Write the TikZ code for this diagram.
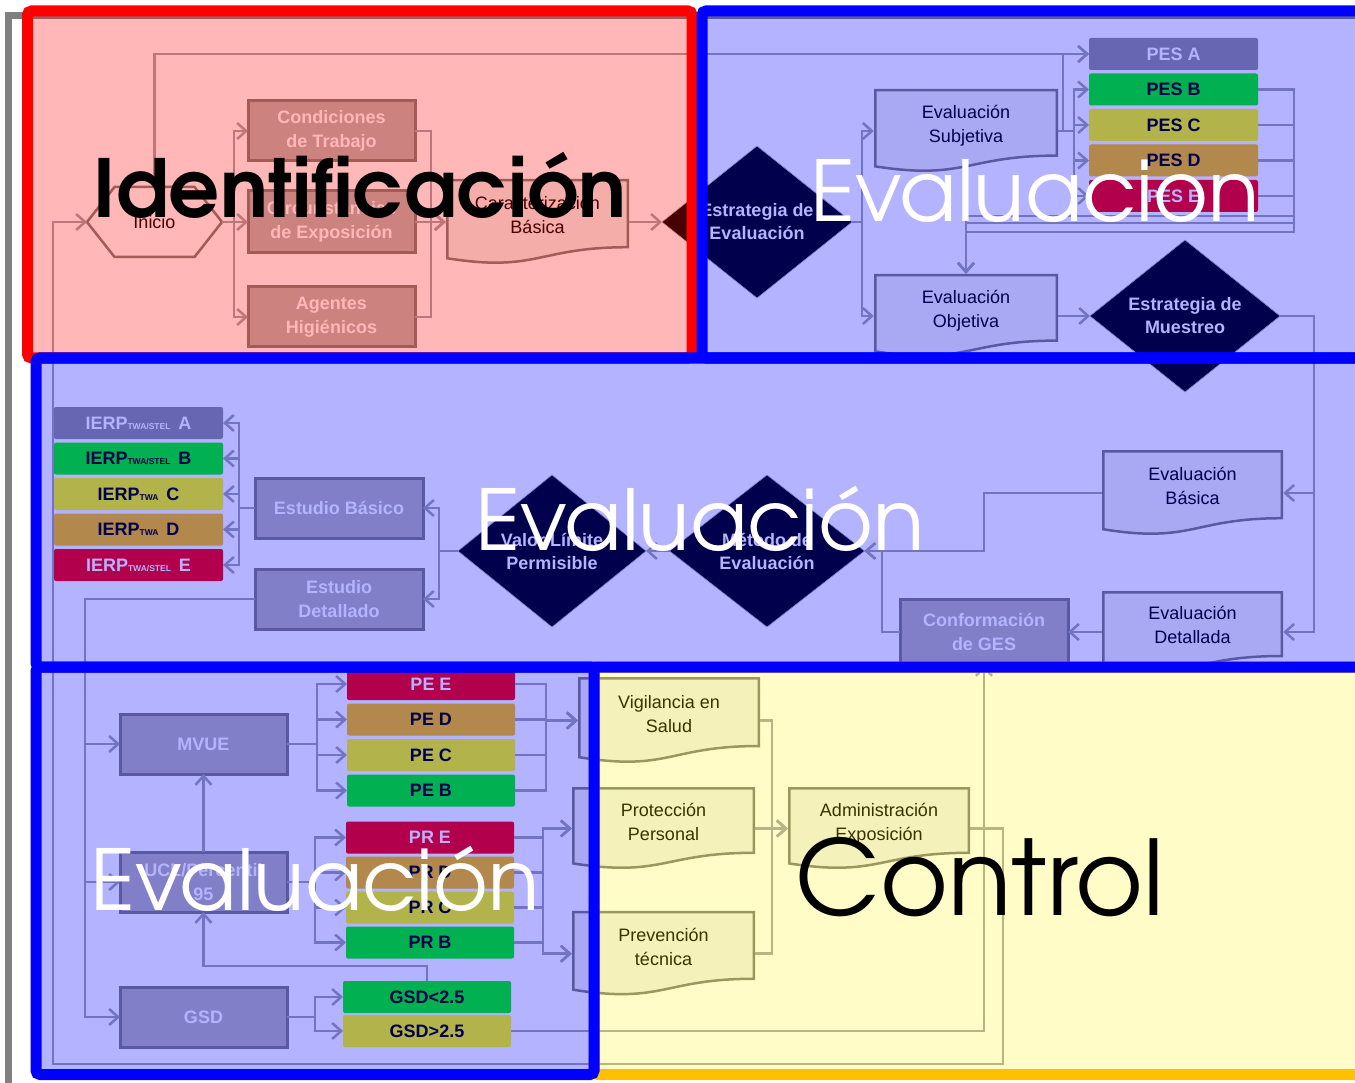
\documentclass[tikz,border=0pt]{standalone}
\usepackage{fontspec}
\setmainfont{Liberation Sans}
\newfontfamily\gothfont{texgyreadventor}[Extension=.otf, UprightFont=*-regular, BoldFont=*-bold]
\usetikzlibrary{positioning,shapes.geometric,arrows.meta,calc}

\definecolor{lnc}{RGB}{165,165,170}
\definecolor{bdc}{RGB}{128,128,122}
\definecolor{boxc}{RGB}{184,182,178}
\definecolor{docc}{RGB}{242,242,238}
\definecolor{lvA}{RGB}{146,146,146}
\definecolor{lvB}{RGB}{0,251,8}
\definecolor{lvC}{RGB}{255,255,0}
\definecolor{lvD}{RGB}{255,194,0}
\definecolor{lvE}{RGB}{255,0,0}
\definecolor{frameg}{RGB}{128,128,128}
\definecolor{ctlc}{RGB}{255,192,0}

\newcommand{\ierplabel}[2]{IERP{\fontsize{8.5}{9}\selectfont #1}\, #2}

\begin{document}
\begin{tikzpicture}[x=1pt, y=-1pt,
    every node/.style={align=center, inner sep=0, outer sep=0, font=\fontsize{18}{24}\selectfont},
    conn/.style={draw=lnc, line width=2.5},
    arr/.style={conn, -{Straight Barb[length=9pt,width=16pt]}},
    box/.style={draw=bdc, line width=3, fill=boxc, text=white, font=\fontsize{18}{24}\selectfont\bfseries, minimum width=167, minimum height=60},
    lvl/.style={rounded corners=2, minimum width=169, minimum height=32, font=\fontsize{18}{24}\selectfont\bfseries},
    dia/.style={shape=diamond, aspect=1.25, fill=black, draw=white!70!black, line width=0.6, text=white, font=\fontsize{18}{23}\selectfont\bfseries, minimum width=190, minimum height=152},
    docln/.style={draw=bdc, fill=docc, line width=2.5},
    doc/.style 2 args={minimum width=#1+2.5, minimum height=#2+2.5,
      execute at end node={\rule[-14pt]{0pt}{14pt}},
      path picture={
        \coordinate (dnw) at ([shift={(1.5,1.5)}]path picture bounding box.north west);
        \coordinate (dse) at ([shift={(-1.5,-1.5)}]path picture bounding box.south east);
        \coordinate (dn) at ($(dnw)!.5!(dnw -| dse)$);
        \coordinate (ds) at ($(dnw |- dse)!.5!(dse)$);
        \draw[docln] (dnw) -- (dnw -| dse) -- ($(dnw -| dse)!.802!(dse)$)
          .. controls ($(dn)!.802!(ds)$) and ($(dn)!1.107!(ds)$) .. ($(dnw)!.934!(dnw |- dse)$) -- cycle;
      }},
    region/.style={line width=11, rounded corners=4},
    big/.style={anchor=base, font=\gothfont\fontsize{84}{84}\selectfont}]

  \useasboundingbox (0,0) rectangle (1355,1083);
  \fill[white] (0,0) rectangle (1355,1083);
  \draw[frameg, line width=7] (8.5,15.5) rectangle (1400,1100);

  % identificacion
  \node[minimum width=80, minimum height=70] (inicio) at (154.5,222) {Inicio};
  \draw[draw=bdc, line width=2.5] (inicio.north west) -- (inicio.north east) -- ([xshift=27.5pt]inicio.east)
    -- (inicio.south east) -- (inicio.south west) -- ([xshift=-27.5pt]inicio.west) -- cycle;
  \coordinate (inicioL) at ([xshift=-27.5pt]inicio.west);
  \coordinate (inicioR) at ([xshift=27.5pt]inicio.east);
  \node[box] (condic) at (331.5,131) {Condiciones\\de Trabajo};
  \node[box, minimum height=62] (circ) at (331.5,222) {Circunstancias\\de Exposición};
  \node[box] (agentes) at (331.5,317) {Agentes\\Higiénicos};
  \node[doc={181}{84}] (caract) at (537.5,222) {Caracterización\\Básica};
  \node[dia] (estrEval) at (757,222) {Estrategia de\\Evaluación};

  % evaluacion subjetiva / objetiva
  \node[doc={182}{82}] (subj) at (966,131) {Evaluación\\Subjetiva};
  \node[doc={182}{82}] (obj) at (966,316) {Evaluación\\Objetiva};
  \node[lvl, fill=lvA, text=white] (pesA) at (1173.5,54) {PES A};
  \node[lvl, fill=lvB, below=3.5pt of pesA] (pesB) {PES B};
  \node[lvl, fill=lvC, below=3.5pt of pesB] (pesC) {PES C};
  \node[lvl, fill=lvD, below=3.5pt of pesC] (pesD) {PES D};
  \node[lvl, fill=lvE, text=white, below=3.5pt of pesD] (pesE) {PES E};
  \node[dia] (muestreo) at (1185,316) {Estrategia de\\Muestreo};

  % evaluacion basica / detallada
  \node[doc={179}{84}] (basica) at (1192.5,493) {Evaluación\\Básica};
  \node[doc={179}{80}] (detallada) at (1192.5,632) {Evaluación\\Detallada};
  \node[box, minimum width=168, minimum height=66] (ges) at (984,632) {Conformación\\de GES};
  \node[dia, minimum width=195] (metodo) at (767,551) {Método de\\Evaluación};
  \node[dia, minimum width=188] (vlp) at (552,551) {Valor Límite\\Permisible};
  \node[box, minimum width=168] (estbas) at (339,508) {Estudio Básico};
  \node[box, minimum width=168] (estdet) at (339,599) {Estudio\\Detallado};
  \node[lvl, fill=lvA, text=white] (ierpA) at (138.5,423) {\ierplabel{TWA/STEL}{A}};
  \node[lvl, fill=lvB, below=3.5pt of ierpA] (ierpB) {\ierplabel{TWA/STEL}{B}};
  \node[lvl, fill=lvC, below=3.5pt of ierpB] (ierpC) {\ierplabel{TWA}{C}};
  \node[lvl, fill=lvD, below=3.5pt of ierpC] (ierpD) {\ierplabel{TWA}{D}};
  \node[lvl, fill=lvE, text=white, below=3.5pt of ierpD] (ierpE) {\ierplabel{TWA/STEL}{E}};

  % estudio detallado
  \node[box] (mvue) at (203.5,744) {MVUE};
  \node[box] (ucl) at (203.5,882) {UCL/Percentil\\95};
  \node[box] (gsd) at (203.5,1017) {GSD};
  \node[lvl, minimum width=168, fill=lvE, text=white] (peE) at (431,684) {PE E};
  \node[lvl, minimum width=168, fill=lvD, below=3.5pt of peE] (peD) {PE D};
  \node[lvl, minimum width=168, fill=lvC, below=3.5pt of peD] (peC) {PE C};
  \node[lvl, minimum width=168, fill=lvB, below=3.5pt of peC] (peB) {PE B};
  \node[lvl, minimum width=168, fill=lvE, text=white] (prE) at (430,837.5) {PR E};
  \node[lvl, minimum width=168, fill=lvD, below=3pt of prE] (prD) {PR D};
  \node[lvl, minimum width=168, fill=lvC, below=3pt of prD] (prC) {PR C};
  \node[lvl, minimum width=168, fill=lvB, below=3pt of prC] (prB) {PR B};
  \node[lvl, minimum width=168, fill=lvB] (gsdlo) at (427,997) {GSD<2.5};
  \node[lvl, minimum width=168, fill=lvC, below=2pt of gsdlo] (gsdhi) {GSD>2.5};

  % control
  \node[doc={180}{85}] (vigil) at (669,720.5) {Vigilancia en\\Salud};
  \node[doc={181}{81}] (protec) at (663.5,828.5) {Protección\\Personal};
  \node[doc={181}{83.5}] (prev) at (663.5,953.7) {Prevención\\técnica};
  \node[doc={180}{81}] (admin) at (879,828.5) {Administración\\Exposición};

  % connectors
  \coordinate (splitI) at (234,222);
  \coordinate (joinI) at (431,222);
  \draw[arr] (inicioR) -- (splitI) |- (condic.west);
  \draw[arr] (splitI) -- (circ.west);
  \draw[arr] (splitI) |- (agentes.west);
  \draw[arr] (condic.east) -| (joinI) -- (caract.west);
  \draw[arr] (circ.east) -- (caract.west);
  \draw[arr] (agentes.east) -| (joinI) -- (caract.west);
  \draw[arr] (caract.east) -- (estrEval.west);
  \draw[arr] (inicio.north) |- (pesA.west);

  \coordinate (splitE) at (862,222);
  \draw[arr] (estrEval.east) -- (splitE) |- (subj.west);
  \draw[arr] (splitE) |- (obj.west);
  \coordinate (splitS) at (1063,131);
  \coordinate (splitS2) at (1074,131);
  \draw[arr] (subj.east) -- (splitS) |- (pesA.west);
  \draw[arr] (splitS) -- (splitS2) |- (pesB.west);
  \draw[arr] (splitS2) |- (pesC.west);
  \draw[arr] (splitS2) |- (pesD.west);
  \draw[arr] (splitS2) |- (pesE.west);
  \coordinate (retB) at (1294,232);
  \coordinate (retC) at (1294,223);
  \coordinate (retD) at (1294,216);
  \draw[arr] (pesB.east) -| (retB) -| (obj.north);
  \draw[arr] (pesC.east) -| (retC) -| (obj.north);
  \draw[arr] (pesD.east) -| (retD) -| (obj.north);
  \draw[conn] (pesE.east) -- (pesE.east -| retD);
  \draw[arr] (obj.east) -- (muestreo.west);
  \coordinate (splitM) at (1314,316);
  \draw[arr] (muestreo.east) -- (splitM) |- (basica.east);
  \draw[arr] (splitM) |- (detallada.east);

  \coordinate (stepB) at (984,551);
  \coordinate (stepG) at (882,551);
  \draw[arr] (basica.west) -| (stepB) -- (metodo.east);
  \draw[arr] (detallada.west) -- (ges.east);
  \draw[arr] (ges.west) -| (stepG) -- (metodo.east);
  \draw[arr] (metodo.west) -- (vlp.east);
  \coordinate (splitV) at (439,551);
  \draw[arr] (vlp.west) -- (splitV) |- (estbas.east);
  \draw[arr] (splitV) |- (estdet.east);
  \coordinate (splitB) at (239,508);
  \draw[arr] (estbas.west) -- (splitB) |- (ierpA.east);
  \draw[arr] (splitB) |- (ierpB.east);
  \draw[arr] (splitB) |- (ierpC.east);
  \draw[arr] (splitB) |- (ierpD.east);
  \draw[arr] (splitB) |- (ierpE.east);
  \coordinate (splitD) at (85,599);
  \draw[arr] (estdet.west) -- (splitD) |- (mvue.west);
  \draw[arr] (splitD) |- (ucl.west);
  \draw[arr] (splitD) |- (gsd.west);

  \draw[arr] (ucl.north) -- (mvue.south);
  \coordinate (backG) at (427,966);
  \draw[arr] (gsdlo.north) -- (backG) -| (ucl.south);
  \coordinate (splitMV) at (317,744);
  \draw[arr] (mvue.east) -- (splitMV) |- (peE.west);
  \draw[arr] (splitMV) |- (peD.west);
  \draw[arr] (splitMV) |- (peC.west);
  \draw[arr] (splitMV) |- (peB.west);
  \coordinate (splitU) at (315,882);
  \draw[arr] (ucl.east) -- (splitU) |- (prE.west);
  \draw[arr] (splitU) |- (prD.west);
  \draw[arr] (splitU) |- (prC.west);
  \draw[arr] (splitU) |- (prB.west);
  \coordinate (splitG) at (315,1017);
  \draw[arr] (gsd.east) -- (splitG) |- (gsdlo.west);
  \draw[arr] (splitG) |- (gsdhi.west);
  \coordinate (joinPE) at (546,720.5);
  \draw[arr] (peE.east) -| (joinPE) -- (vigil.west);
  \draw[arr] (peD.east) -| (joinPE) -- (vigil.west);
  \draw[arr] (peC.east) -| (joinPE) -- (vigil.west);
  \draw[arr] (peB.east) -| (joinPE) -- (vigil.west);
  \coordinate (joinPR1) at (543,828.5);
  \coordinate (joinPR2) at (543,953.7);
  \draw[arr] (prE.east) -| (joinPR1) -- (protec.west);
  \draw[arr] (prC.east) -| (joinPR1) -- (protec.west);
  \draw[arr] (prD.east) -| (joinPR2) -- (prev.west);
  \draw[arr] (prB.east) -| (joinPR2) -- (prev.west);
  \draw[arr] (gsdhi.east) -| (ges.south);

  \coordinate (joinC) at (772,828.5);
  \draw[arr] (vigil.east) -| (joinC) -- (admin.west);
  \draw[arr] (protec.east) -- (admin.west);
  \draw[arr] (prev.east) -| (joinC) -- (admin.west);
  \coordinate (loopR) at (1003,1064);
  \coordinate (loopL) at (53,1064);
  \draw[arr] (admin.east) -| (loopR) -- (loopL) |- (inicioL);

  % regions
  \draw[region, draw=ctlc, fill=yellow, fill opacity=0.216] (594,667) rectangle (1400,1074.5);
  \draw[region, draw=red, fill=red, fill opacity=0.282] (27.5,11) rectangle (692,358);
  \draw[region, draw=blue, fill=blue, fill opacity=0.298] (702,11) rectangle (1400,358);
  \draw[region, draw=blue, fill=blue, fill opacity=0.298] (36,358) rectangle (1400,667);
  \draw[region, draw=blue, fill=blue, fill opacity=0.298] (36,667) rectangle (594,1074.5);

  \node[big, font=\gothfont\bfseries\fontsize{80}{80}\selectfont] (tIdent) at (360,218) {Identificación};
  \node[big, text=white] (tEvalA) at (1035,222) {Evaluacion};
  \node[big, text=white] (tEvalB) at (700,550) {Evaluación};
  \node[big, text=white] (tEvalC) at (315,910) {Evaluación};
  \node[big, font=\gothfont\fontsize{104}{104}\selectfont] (tCtl) at (980,915) {Control};
\end{tikzpicture}
\end{document}
